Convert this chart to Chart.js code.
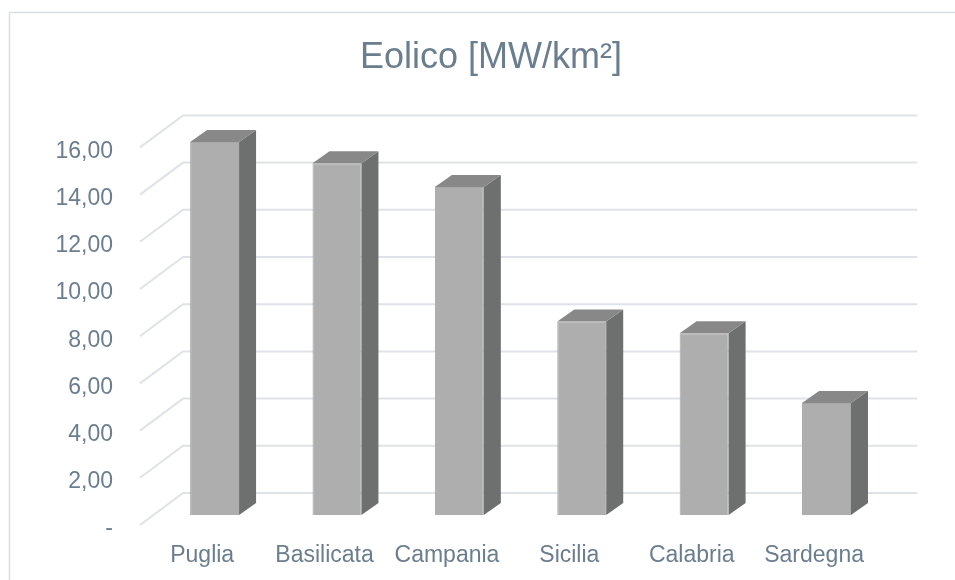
<!DOCTYPE html>
<html>
<head>
<meta charset="utf-8">
<script src="https://cdn.jsdelivr.net/npm/chart.js@4/dist/chart.umd.min.js"></script>
<style>
  html, body { margin:0; padding:0; background:#fff; }
  #wrap { width:955px; height:580px; }
</style>
</head>
<body>
<div id="wrap"><canvas id="myChart" width="955" height="580"></canvas></div>
<script>
var titolo = 'Eolico [MW/km²]';
var regioni = ['Puglia','Basilicata','Campania','Sicilia','Calabria','Sardegna'];
var valori = [15.8, 14.9, 13.9, 8.2, 7.7, 4.75];
var yTicks = [0, 2, 4, 6, 8, 10, 12, 14, 16];
var yLabels = ['-', '2,00', '4,00', '6,00', '8,00', '10,00', '12,00', '14,00', '16,00'];

var testo = '#6b7e8f';
var griglia = '#dfe3e8';
var fronte = '#adaead';
var lato = '#6e706f';
var cima = '#878887';

// oblique 3D: offsets from the bar plane to the front and back planes
var front = {x: -13.4, y: 10};
var back = {x: 29.6, y: -22};
var depth = {x: 17, y: -12};

var finto3d = {
    id: 'finto3d',
    beforeDraw: function(chart) {
        var c = chart.ctx;
        c.save();
        c.fillStyle = '#fff';
        c.fillRect(0, 0, chart.width, chart.height);
        c.strokeStyle = '#d9dee4';
        c.lineWidth = 1.5;
        c.strokeRect(9.5, 12.5, chart.width + 10, chart.height + 10);
        c.fillStyle = testo;
        c.font = '36px "Liberation Sans", Arial, sans-serif';
        c.textAlign = 'center';
        c.textBaseline = 'alphabetic';
        c.fillText(titolo, 491, 67.5);
        c.restore();
    },
    beforeDatasetsDraw: function(chart) {
        var c = chart.ctx;
        var area = chart.chartArea;
        var y = chart.scales.y;
        var x = chart.scales.x;
        c.save();
        c.strokeStyle = griglia;
        c.lineWidth = 2;
        for (var i = 0; i < yTicks.length; i++) {
            var py = y.getPixelForValue(yTicks[i]);
            c.beginPath();
            c.moveTo(area.left + front.x, py + front.y);
            c.lineTo(area.left + back.x, py + back.y);
            c.lineTo(area.right + back.x, py + back.y);
            c.stroke();
        }
        c.fillStyle = testo;
        c.font = '23px "Liberation Sans", Arial, sans-serif';
        c.textAlign = 'right';
        c.textBaseline = 'alphabetic';
        for (var i = 0; i < yTicks.length; i++) {
            var py = y.getPixelForValue(yTicks[i]);
            c.fillText(yLabels[i], 113, py + front.y + 10.3);
        }
        c.textAlign = 'center';
        for (var i = 0; i < regioni.length; i++) {
            var px = x.getPixelForValue(i);
            c.fillText(regioni[i], px + front.x + 1, 561.5);
        }
        c.restore();
    },
    afterDatasetsDraw: function(chart) {
        var c = chart.ctx;
        var meta = chart.getDatasetMeta(0);
        c.save();
        meta.data.forEach(function(bar) {
            var l = bar.x - bar.width / 2;
            var r = bar.x + bar.width / 2;
            var t = bar.y;
            var b = bar.base;
            c.fillStyle = lato;
            c.beginPath();
            c.moveTo(r, t);
            c.lineTo(r + depth.x, t + depth.y);
            c.lineTo(r + depth.x, b + depth.y);
            c.lineTo(r, b);
            c.closePath();
            c.fill();
            c.fillStyle = cima;
            c.beginPath();
            c.moveTo(l, t);
            c.lineTo(l + depth.x, t + depth.y);
            c.lineTo(r + depth.x, t + depth.y);
            c.lineTo(r, t);
            c.closePath();
            c.fill();
        });
        c.restore();
    }
};

var ctx = document.getElementById('myChart').getContext('2d');
var chart = new Chart(ctx, {
    type: 'bar',
    data: {
        labels: regioni,
        datasets: [{
            label: titolo,
            data: valori,
            backgroundColor: fronte,
            borderColor: '#a6a7a6',
            borderWidth: 1,
            barPercentage: 1,
            categoryPercentage: 0.4
        }]
    },
    options: {
        responsive: false,
        animation: false,
        layout: {padding: {left: 153.4, right: 67.3, top: 137.4, bottom: 65}},
        plugins: {legend: {display: false}, title: {display: false}, tooltip: {enabled: false}},
        scales: {
            x: {display: false},
            y: {display: false, min: 0, max: 16}
        }
    },
    plugins: [finto3d]
});
</script>
</body>
</html>
